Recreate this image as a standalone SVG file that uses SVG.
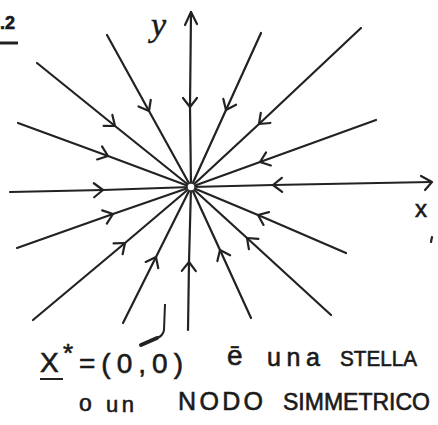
<svg xmlns="http://www.w3.org/2000/svg" width="438" height="425" viewBox="0 0 438 425">
<style>
.traj{fill:none;stroke:#222;stroke-width:2.2;stroke-linecap:round;stroke-linejoin:round;marker-mid:url(#chev)}
.head{fill:none;stroke:#222;stroke-width:2.2;stroke-linecap:round;stroke-linejoin:round}
.hand{font-family:"Liberation Sans","DejaVu Sans",sans-serif;fill:#1a1a1a;stroke:#1a1a1a;stroke-width:0.6}
</style>
<defs>
<marker id="chev" viewBox="-12 -9 14 18" refX="0" refY="0" markerWidth="14" markerHeight="18" markerUnits="userSpaceOnUse" orient="auto">
<path d="M-9,-7 L0,0 L-9,7" fill="none" stroke="#222" stroke-width="2.2" stroke-linecap="round" stroke-linejoin="round"/>
</marker>
</defs>
<rect width="438" height="425" fill="#fff"/>
<g id="connectors">
<path class="traj" d="M191,12 L190,107 L191,187"/>
<path class="traj" d="M10,192 L103,190 L191,187"/>
<path class="traj" d="M431,182 L273,185 L191,187"/>
<path class="traj" d="M107,35 L149,111 L191,187"/>
<path class="traj" d="M37,63 L115,126 L191,187"/>
<path class="traj" d="M18,123 L108,156 L191,187"/>
<path class="traj" d="M261,33 L226,110 L191,187"/>
<path class="traj" d="M361,28 L259,124 L191,187"/>
<path class="traj" d="M376,120 L260,162 L191,187"/>
<path class="traj" d="M17,248 L113,214 L191,187"/>
<path class="traj" d="M33,320 L125,243 L191,187"/>
<path class="traj" d="M123,323 L156,257 L191,187"/>
<path class="traj" d="M188,330 L189,262 L191,187"/>
<path class="traj" d="M346,253 L258,215 L191,187"/>
<path class="traj" d="M331,315 L247,238 L191,187"/>
<path class="traj" d="M251,318 L220,250 L191,187"/>
<polyline class="head" points="185,25 191,12 197,24"/>
<polyline class="head" points="421,176 432,182 425,190"/>
</g>
<g id="origin">
<circle cx="191" cy="187" r="4" fill="#fff" stroke="#333" stroke-width="1.5"/>
</g>
<g id="label-y">
<text x="151" y="36" font-size="34" font-style="italic" style="font-family:'Liberation Serif',serif;fill:#1a1a1a;stroke:#1a1a1a;stroke-width:0.5">y</text>
</g>
<g id="label-x">
<text class="hand" x="415" y="217" font-size="24">x</text>
<path d="M432,237 L431,242" class="head" stroke-width="1.5"/>
</g>
<g id="number">
<text class="hand" x="0" y="29" font-size="18" font-weight="bold">.2</text>
<path d="M0,43 L18,43" stroke="#222" stroke-width="3"/>
</g>
<g id="caption">
<path d="M165,304 L164,330 Q163,336 157,338" fill="none" stroke="#222" stroke-width="2"/>
<path d="M157,338 L141,345" fill="none" stroke="#222" stroke-width="4" stroke-linecap="round"/>
<text class="hand" x="40" y="372" font-size="28">X</text>
<path d="M40,379 L63,379" stroke="#222" stroke-width="2"/>
<text class="hand" x="63" y="362" font-size="26">*</text>
<text class="hand" x="79" y="373" font-size="28" textLength="104" lengthAdjust="spacing">=(0,0)</text>
<text class="hand" x="227" y="365" font-size="28">ē</text>
<text class="hand" x="267" y="366" font-size="25" textLength="53" lengthAdjust="spacing">una</text>
<text class="hand" x="340" y="366" font-size="22" textLength="77" lengthAdjust="spacingAndGlyphs">STELLA</text>
<text class="hand" x="79" y="411" font-size="23">o</text>
<text class="hand" x="106" y="412" font-size="22" textLength="28" lengthAdjust="spacing">un</text>
<text class="hand" x="178" y="410" font-size="25" textLength="85" lengthAdjust="spacing">NODO</text>
<text class="hand" x="283" y="410" font-size="23.5" textLength="147" lengthAdjust="spacingAndGlyphs">SIMMETRICO</text>
</g>
</svg>
